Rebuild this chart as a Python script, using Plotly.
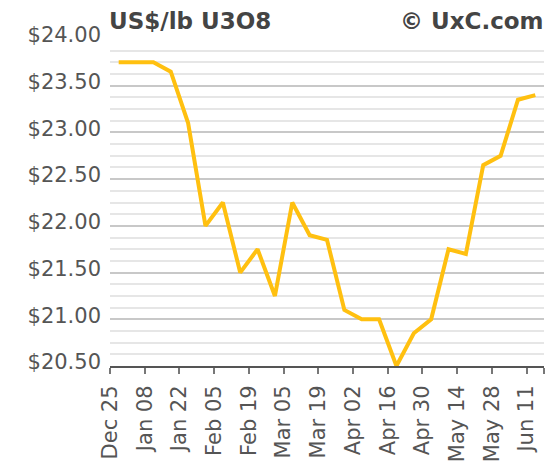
import plotly.graph_objects as go

# Weekly spot price, US$/lb U3O8 (Dec 25 .. Jun 11)
prices = [23.75, 23.75, 23.75, 23.65, 23.10, 22.00, 22.25, 21.50, 21.75, 21.25,
          22.25, 21.90, 21.85, 21.10, 21.00, 21.00, 20.50, 20.85, 21.00, 21.75,
          21.70, 22.65, 22.75, 23.35, 23.40]
tick_labels = ["Dec 25", "Jan 08", "Jan 22", "Feb 05", "Feb 19", "Mar 05", "Mar 19",
               "Apr 02", "Apr 16", "Apr 30", "May 14", "May 28", "Jun 11"]

n = len(prices)
x = list(range(n))
tickvals = [-0.5 + 2 * k for k in range(len(tick_labels))] + [n - 0.5]
ticktext = tick_labels + [""]

FONT = "DejaVu Sans"

fig = go.Figure()
fig.add_trace(go.Scatter(
    x=x, y=prices, mode="lines",
    line=dict(color="#FFC010", width=4),
    hoverinfo="y",
    showlegend=False,
))

fig.update_layout(
    width=555, height=464,
    margin=dict(l=110, r=11, t=39, b=98),
    plot_bgcolor="white", paper_bgcolor="white",
    font=dict(family=FONT, size=21, color="#555555"),
    xaxis=dict(
        range=[-0.5, n - 0.5],
        tickvals=tickvals, ticktext=ticktext,
        tickangle=-90,
        ticks="outside", ticklen=6, tickwidth=1.5, tickcolor="#777777",
        ticklabelstandoff=3,
        showline=True, linecolor="#555555", linewidth=2,
        showgrid=False, zeroline=False, automargin=False,
        tickfont=dict(family=FONT, size=21, color="#555555"),
    ),
    yaxis=dict(
        range=[20.5, 24.0],
        dtick=0.5, tick0=20.5,
        tickprefix="$", tickformat=".2f",
        ticks="", ticklabelstandoff=8, ticklabelshift=-4,
        showgrid=True, gridcolor="#c8c8c8", gridwidth=2,
        minor=dict(dtick=0.125, showgrid=True, gridcolor="#e6e6e6", gridwidth=1.5),
        zeroline=False, showline=False, automargin=False,
        tickfont=dict(family=FONT, size=21, color="#555555"),
    ),
    annotations=[
        dict(text="<b>US$/lb U3O8</b>", xref="paper", yref="paper", x=0, y=1,
             xanchor="left", yanchor="bottom", yshift=3, xshift=-3, showarrow=False,
             font=dict(family=FONT, size=23, color="#444444")),
        dict(text="<b>© UxC.com</b>", xref="paper", yref="paper", x=1, y=1,
             xanchor="right", yanchor="bottom", yshift=3, xshift=2, showarrow=False,
             font=dict(family=FONT, size=23, color="#444444")),
    ],
)

fig.write_html("out.html", config={"displayModeBar": False},
               post_script="document.body.style.margin='0';")
